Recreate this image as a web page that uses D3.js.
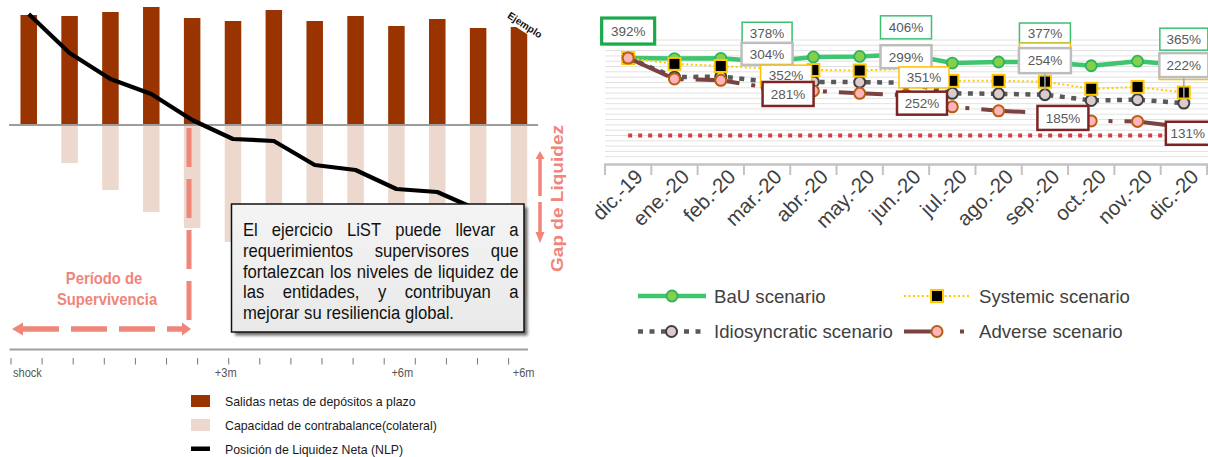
<!DOCTYPE html>
<html>
<head>
<meta charset="utf-8">
<script src="https://cdnjs.cloudflare.com/ajax/libs/d3/7.8.5/d3.min.js"></script>
<style>
  html, body { margin: 0; padding: 0; background: #fff; }
  svg { display: block; }
</style>
</head>
<body>
<svg id="chart" width="1208" height="457"></svg>
<script>
// ---------------- Data: illustrative LiST exercise (left panel) ----------------
const periodos = [1, 2, 3, 4, 5, 6, 7, 8, 9, 10, 11, 12, 13];
const salidasNetas = [110, 109, 113, 118, 107, 104, 115, 104, 109, 99, 106, 97, 98];
const capacidadContrabalance = [0, -38, -65, -87, -103, -117, -128, -136, -144, -150, -158, -166, -172];
const posicionNLP = [111, 72, 46, 31, 5, -14, -16, -40, -45, -64, -67, -85, -100];
const ticksTiempo = d3.range(17);
const etiquetasTiempo = ["shock", "+3m", "+6m", "+6m"];
const ticksEtiquetas = [0, 7, 13, 16];
const leyendaIzq = ["Salidas netas de depósitos a plazo", "Capacidad de contrabalance(colateral)", "Posición de Liquidez Neta (NLP)"];
const textoRecuadro = [
  "El ejercicio LiST puede llevar a",
  "requerimientos supervisores que",
  "fortalezcan los niveles de liquidez de",
  "las entidades, y contribuyan a",
  "mejorar su resiliencia global."
];

// ---------------- Data: liquidity ratio by scenario (right panel) ----------------
const meses = ["dic.-19", "ene.-20", "feb.-20", "mar.-20", "abr.-20", "may.-20", "jun.-20",
               "jul.-20", "ago.-20", "sep.-20", "oct.-20", "nov.-20", "dic.-20"];
const bau           = [392, 390, 391, 378, 396, 398, 406, 373, 377, 377, 363, 380, 365];
const systemic      = [392, 370, 362, 352, 347, 345, 351, 306, 306, 303, 276, 283, 262];
const idiosyncratic = [392, 320, 322, 304, 302, 301, 299, 259, 257, 254, 232, 235, 222];
const adverse       = [392, 313, 308, 281, 268, 259, 252, 208, 193, 185, 155, 153, 131];
const minimo        = [100, 100, 100, 100, 100, 100, 100, 100, 100, 100, 100, 100, 100];
const escenarios    = ["BaU scenario", "Systemic scenario", "Idiosyncratic scenario", "Adverse scenario"];
const gridValues    = d3.range(20, 461, 20);

// ---------------- Setup ----------------
const SANS = "'Liberation Sans', Arial, sans-serif";
const SALMON = "#f0857a";
const svg = d3.select("#chart");
const defs = svg.append("defs");

defs.append("filter").attr("id", "soft").append("feGaussianBlur").attr("stdDeviation", 0.5);
defs.append("filter").attr("id", "shadow").append("feGaussianBlur").attr("stdDeviation", 1.5);
const grad = defs.append("linearGradient").attr("id", "boxfill").attr("x1", 0).attr("y1", 0).attr("x2", 0).attr("y2", 1);
grad.append("stop").attr("offset", "0%").attr("stop-color", "#f4f4f4");
grad.append("stop").attr("offset", "100%").attr("stop-color", "#e9e9e9");

// condensed text: regular sans squeezed horizontally
function narrowText(parent, x, y, str, size, sx, opts = {}) {
  return parent.append("text")
    .attr("transform", `translate(${x},${y}) scale(${sx},1)`)
    .attr("text-anchor", opts.anchor || "start")
    .attr("font-family", SANS).attr("font-size", size)
    .attr("font-weight", opts.weight || "normal")
    .attr("fill", opts.fill || "#111")
    .text(str);
}

// ================= LEFT PANEL =================
const xL = d3.scaleBand().domain(periodos).range([8.3, 539.4]).paddingInner(0.596).paddingOuter(0.298);
const yL = d3.scaleLinear().domain([0, 110]).range([125, 15]);
const left = svg.append("g");

// counterbalancing capacity (below the zero line)
left.selectAll("rect.cap").data(periodos).join("rect")
  .attr("class", "cap")
  .attr("x", d => xL(d)).attr("width", xL.bandwidth())
  .attr("y", yL(0))
  .attr("height", (d, i) => yL(capacidadContrabalance[i]) - yL(0))
  .attr("fill", "#edd8cd");

// net term-deposit outflows
left.selectAll("rect.out").data(periodos).join("rect")
  .attr("class", "out")
  .attr("x", d => xL(d)).attr("width", xL.bandwidth())
  .attr("y", (d, i) => yL(salidasNetas[i]))
  .attr("height", (d, i) => yL(0) - yL(salidasNetas[i]))
  .attr("fill", "#993300");

// zero line
left.append("line").attr("x1", 9).attr("x2", 538).attr("y1", yL(0)).attr("y2", yL(0))
  .attr("stroke", "#9d9d9d").attr("stroke-width", 2);

// survival period vertical marker
left.append("line").attr("x1", 189).attr("x2", 189).attr("y1", 128).attr("y2", 322)
  .attr("stroke", SALMON).attr("stroke-width", 5).attr("stroke-dasharray", "39,12");

// NLP line
const lineL = d3.line().x((d, i) => xL(periodos[i]) + xL.bandwidth() / 2).y(d => yL(d));
left.append("path").datum(posicionNLP).attr("d", lineL)
  .attr("fill", "none").attr("stroke", "#000").attr("stroke-width", 4.2)
  .attr("stroke-linejoin", "round").attr("filter", "url(#soft)");

// "Ejemplo" tag
const tag = left.append("g").attr("transform", "translate(525,25) rotate(33)");
tag.append("rect").attr("x", -24).attr("y", -6.5).attr("width", 48).attr("height", 13).attr("fill", "#fff");
tag.append("text").attr("text-anchor", "middle").attr("dy", "0.35em")
  .attr("font-family", SANS).attr("font-size", 10).attr("font-weight", "bold").attr("fill", "#111")
  .text("Ejemplo");

// Gap de liquidez arrow + label
const gapArrow = left.append("g");
gapArrow.append("line").attr("x1", 540).attr("x2", 540).attr("y1", 158).attr("y2", 233)
  .attr("stroke", SALMON).attr("stroke-width", 3.5).attr("stroke-dasharray", "38,6");
gapArrow.append("path").attr("d", "M540,151 L544.5,159 L535.5,159 Z").attr("fill", SALMON);
gapArrow.append("path").attr("d", "M540,243 L544.5,232 L535.5,232 Z").attr("fill", SALMON);
left.append("text").attr("transform", "translate(562.5,198.5) rotate(-90)")
  .attr("text-anchor", "middle").attr("font-family", SANS).attr("font-weight", "bold")
  .attr("font-size", 17).attr("fill", SALMON)
  .attr("textLength", 147).attr("lengthAdjust", "spacingAndGlyphs")
  .text("Gap de Liquidez");

// Survival period label + arrow
narrowText(left, 104, 284, "Período de", 17, 0.87, { anchor: "middle", weight: "bold", fill: SALMON });
narrowText(left, 107, 304.5, "Supervivencia", 17, 0.87, { anchor: "middle", weight: "bold", fill: SALMON });
left.append("line").attr("x1", 23).attr("x2", 184).attr("y1", 329).attr("y2", 329)
  .attr("stroke", SALMON).attr("stroke-width", 5.5).attr("stroke-dasharray", "36,12");
left.append("path").attr("d", "M12,329 L23,322.5 L23,335.5 Z").attr("fill", SALMON);
left.append("path").attr("d", "M191,329 L182,322.5 L182,335.5 Z").attr("fill", SALMON);

// Text box with justified text
const bx0 = 231.5, by0 = 204, bw = 292.5, bh = 128;
left.append("rect").attr("x", bx0 + 3.5).attr("y", by0 + 3.5).attr("width", bw).attr("height", bh)
  .attr("fill", "#6d6d6d").attr("filter", "url(#shadow)");
left.append("rect").attr("x", bx0).attr("y", by0).attr("width", bw).attr("height", bh)
  .attr("fill", "url(#boxfill)").attr("stroke", "#111").attr("stroke-width", 1.5);
const tx0 = 243, tx1 = 518.5, BOX_FS = 18.5, BOX_SX = 0.9;
textoRecuadro.forEach((line, li) => {
  const y = 236 + li * 20.8;
  const words = line.split(" ");
  const tmp = left.append("g");
  const widths = words.map(w => {
    const t = tmp.append("text").attr("font-family", SANS).attr("font-size", BOX_FS).text(w);
    return t.node().getComputedTextLength() * BOX_SX;
  });
  tmp.remove();
  const last = li === textoRecuadro.length - 1;
  const total = d3.sum(widths);
  const spaceW = last ? BOX_FS * 0.278 * BOX_SX : (tx1 - tx0 - total) / (words.length - 1);
  let x = tx0;
  words.forEach((w, wi) => {
    narrowText(left, x, y, w, BOX_FS, BOX_SX, { fill: "#111" });
    x += widths[wi] + spaceW;
  });
});

// time axis
const xT = d3.scaleLinear().domain([0, 16]).range([11, 508.6]);
left.append("line").attr("x1", 9.5).attr("x2", 528).attr("y1", 349.5).attr("y2", 349.5)
  .attr("stroke", "#a0a0a0").attr("stroke-width", 2);
left.selectAll("line.tt").data(ticksTiempo).join("line").attr("class", "tt")
  .attr("x1", d => xT(d)).attr("x2", d => xT(d)).attr("y1", 358).attr("y2", 364.5)
  .attr("stroke", "#777").attr("stroke-width", 1);
const tickLabelShift = [2, -3, -13, 15];
etiquetasTiempo.forEach((lab, k) => {
  narrowText(left, xT(ticksEtiquetas[k]) + tickLabelShift[k], 376.5, lab, 13, 0.85,
    { anchor: k === 0 ? "start" : "middle", fill: "#555" });
});

// left legend
const legL = left.append("g");
const legColors = ["#993300", "#edd8cd", "#000"];
leyendaIzq.forEach((lab, k) => {
  const cy = 401 + k * 24;
  if (k < 2) {
    legL.append("rect").attr("x", 191).attr("y", cy - 6).attr("width", 19).attr("height", 12).attr("fill", legColors[k]);
  } else {
    legL.append("rect").attr("x", 191).attr("y", cy - 2.5).attr("width", 19).attr("height", 4.5).attr("fill", legColors[k]);
  }
  narrowText(legL, 225, cy + 4.5, lab, 13, 0.95, { fill: "#1a1a1a" });
});

// ================= RIGHT PANEL =================
const xR = d3.scaleBand().domain(meses).range([605, 1207]);
const yR = d3.scaleLinear().domain([0, 460]).range([162, 40]);
const cx = i => xR(meses[i]) + xR.bandwidth() / 2;
const right = svg.append("g");

// gridlines
right.selectAll("line.grid").data(gridValues).join("line").attr("class", "grid")
  .attr("x1", 605).attr("x2", 1208).attr("y1", d => yR(d)).attr("y2", d => yR(d))
  .attr("stroke", "#e2e2e2").attr("stroke-width", 1);

// category axis
right.append("line").attr("x1", 604).attr("x2", 1208).attr("y1", 164.5).attr("y2", 164.5)
  .attr("stroke", "#c3c3c3").attr("stroke-width", 2.5);
const bounds = meses.map(m => xR(m)).concat([xR(meses[12]) + xR.bandwidth()]);
right.selectAll("line.xt").data(bounds).join("line").attr("class", "xt")
  .attr("x1", d => d).attr("x2", d => d).attr("y1", 164).attr("y2", 175)
  .attr("stroke", "#c3c3c3").attr("stroke-width", 2);
right.selectAll("text.xl").data(meses).join("text").attr("class", "xl")
  .attr("transform", (d, i) => `translate(${cx(i) + 16},178) rotate(-45)`)
  .attr("text-anchor", "end").attr("font-family", SANS).attr("font-size", 20.5).attr("fill", "#404040")
  .text(d => d);

const lineR = d3.line().x((d, i) => cx(i)).y(d => yR(d));

// 100% minimum
right.append("path").datum(minimo).attr("d", lineR).attr("fill", "none")
  .attr("stroke", "#d0423f").attr("stroke-width", 4).attr("stroke-dasharray", "4,6");

const styles = {
  bau:  { line: "#3fc46f", w: 4.5, dash: null },
  idio: { line: "#595959", w: 4.5, dash: "5,6.5" },
  sys:  { line: "#ffcc00", w: 2, dash: "2,2.5" },
  adv:  { line: "#7b4242", w: 4, dash: "44,12,4,12" }
};
const series = { bau: bau, idio: idiosyncratic, sys: systemic, adv: adverse };

function marker(g, key, x, y) {
  if (key === "bau") {
    g.append("circle").attr("cx", x).attr("cy", y).attr("r", 5.5).attr("fill", "#86cf4b")
      .attr("stroke", "#2bb45c").attr("stroke-width", 1.8);
  } else if (key === "idio") {
    g.append("circle").attr("cx", x).attr("cy", y).attr("r", 5.5).attr("fill", "#dccbcb")
      .attr("stroke", "#404040").attr("stroke-width", 2);
  } else if (key === "sys") {
    g.append("rect").attr("x", x - 6).attr("y", y - 6).attr("width", 12).attr("height", 12)
      .attr("fill", "#000").attr("stroke", "#ffc800").attr("stroke-width", 2);
  } else {
    g.append("circle").attr("cx", x).attr("cy", y).attr("r", 5.5).attr("fill", "#ffb3bd")
      .attr("stroke", "#b8600f").attr("stroke-width", 2);
  }
}

["bau", "idio", "sys", "adv"].forEach(key => {
  const st = styles[key];
  const g = right.append("g");
  g.append("path").datum(series[key]).attr("d", lineR).attr("fill", "none")
    .attr("stroke", st.line).attr("stroke-width", st.w)
    .attr("stroke-dasharray", st.dash);
  series[key].forEach((v, i) => marker(g, key, cx(i), yR(v)));
});

// data labels (quarter-end months); covered boxes carry no text
const labelSpec = [
  { s: "bau",  i: 0,  dx: 0,  dy: -27,  w: 53, h: 26, sw: 3.2 },
  { s: "bau",  i: 3,  dx: 0,  dy: -29,  w: 50, h: 21 },
  { s: "idio", i: 3,  dx: 0,  dy: -27.5, w: 51, h: 22 },
  { s: "sys",  i: 3,  dx: 19, dy: 7,    w: 51, h: 21 },
  { s: "adv",  i: 3,  dx: 21, dy: 6.5,  w: 51, h: 24 },
  { s: "bau",  i: 6,  dx: 0,  dy: -27,  w: 51, h: 23 },
  { s: "idio", i: 6,  dx: 0,  dy: -26,  w: 51, h: 23 },
  { s: "sys",  i: 6,  dx: 18, dy: 8.5,  w: 50, h: 21 },
  { s: "adv",  i: 6,  dx: 16, dy: 8,    w: 50, h: 23 },
  { s: "bau",  i: 9,  dx: 0,  dy: -29,  w: 51, h: 20 },
  { s: "sys",  i: 9,  dx: 0,  dy: -27,  w: 51, h: 23, covered: true },
  { s: "idio", i: 9,  dx: 0,  dy: -34,  w: 52, h: 25, leader: true },
  { s: "adv",  i: 9,  dx: 18, dy: 5,    w: 51, h: 24 },
  { s: "bau",  i: 12, dx: 0,  dy: -26,  w: 48, h: 22 },
  { s: "sys",  i: 12, dx: 0,  dy: -25,  w: 49, h: 24, covered: true },
  { s: "idio", i: 12, dx: 0,  dy: -38,  w: 49, h: 24, leader: true },
  { s: "adv",  i: 12, dx: 4,  dy: 6,    w: 44, h: 23 }
];
const labelBorder = { bau: "#3cc070", idio: "#bdbdbd", sys: "#ffc000", adv: "#7d2525" };
const labelBorderW = { bau: 1.5, idio: 2.5, sys: 1.5, adv: 2.5 };
const labG = right.append("g");
labelSpec.forEach(L => {
  const v = series[L.s][L.i];
  const px = cx(L.i), py = yR(v);
  const bxc = px + L.dx, byc = py + L.dy;
  if (L.leader) {
    labG.append("line").attr("x1", px).attr("x2", px).attr("y1", byc + L.h / 2).attr("y2", py - 4)
      .attr("stroke", "#a6a6a6").attr("stroke-width", 1.5);
  }
  labG.append("rect").attr("x", bxc - L.w / 2).attr("y", byc - L.h / 2).attr("width", L.w).attr("height", L.h)
    .attr("fill", "#fff").attr("stroke", L.s === "bau" && L.sw ? "#1aaa4c" : labelBorder[L.s])
    .attr("stroke-width", L.sw || labelBorderW[L.s]);
  if (!L.covered) {
    labG.append("text").attr("x", bxc).attr("y", byc + 4.8).attr("text-anchor", "middle")
      .attr("font-family", SANS).attr("font-size", 13.5).attr("fill", "#595959").text(v + "%");
  }
});

// right legend
const legR = right.append("g");
const legPos = [
  { key: "bau",  x0: 638, x1: 706, y: 296, tx: 714 },
  { key: "sys",  x0: 904, x1: 970, y: 296, tx: 979 },
  { key: "idio", x0: 638, x1: 705, y: 331.5, tx: 714 },
  { key: "adv",  x0: 904, x1: 964, y: 331.5, tx: 979 }
];
legPos.forEach((p, k) => {
  const st = styles[p.key];
  legR.append("line").attr("x1", p.x0).attr("x2", p.x1).attr("y1", p.y).attr("y2", p.y)
    .attr("stroke", st.line).attr("stroke-width", st.w)
    .attr("stroke-dasharray", p.key === "adv" ? "27,29,4,100" : st.dash);
  marker(legR, p.key, p.key === "adv" ? 937 : (p.x0 + p.x1) / 2, p.y);
  legR.append("text").attr("x", p.tx).attr("y", p.y + 6.5)
    .attr("font-family", SANS).attr("font-size", 18.6).attr("fill", "#404040").text(escenarios[k]);
});
</script>
</body>
</html>
